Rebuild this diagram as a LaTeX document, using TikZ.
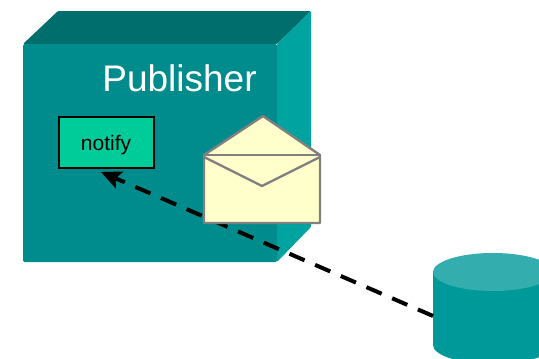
\documentclass[tikz,border=0pt]{standalone}
\usepackage{fontspec}
\setmainfont{Liberation Sans}
\usetikzlibrary{arrows.meta}
\definecolor{frontc}{HTML}{008C8C}
\definecolor{topc}{HTML}{006E6C}
\definecolor{sidec}{HTML}{00A3A0}
\definecolor{cylc}{HTML}{009999}
\definecolor{cyltop}{HTML}{33ADAD}
\definecolor{notifyc}{HTML}{00CC99}
\definecolor{envc}{HTML}{FFFFCC}
\definecolor{envl}{HTML}{808080}
\tikzset{
  envline/.style={draw=envl,line width=2.4pt,line join=round},
  notifybox/.style={draw=black,line width=2pt,fill=notifyc,minimum width=95pt,minimum height=51pt,inner sep=0pt,font=\fontsize{21}{24}\selectfont},
  titletext/.style={text=white,inner sep=0pt,font=\fontsize{37}{42}\selectfont},
  flow/.style={line width=4pt,dash pattern=on 16.5pt off 11.5pt,-{Stealth[length=20pt,width=18pt,inset=4pt]}}
}
\begin{document}
\begin{tikzpicture}[x=1pt,y=-1pt]
\useasboundingbox (0,0) rectangle (539,359);
\clip (0,0) rectangle (539,359);
% publisher box
\fill[topc,rounded corners=1pt] (23,44) -- (58,11) -- (311,11) -- (277,44) -- cycle;
\fill[sidec,rounded corners=1pt] (277,44) -- (311,11) -- (311,227) -- (277,262) -- cycle;
\fill[frontc,rounded corners=1.5pt] (23,44) rectangle (277,262);
\node[titletext] (pub) at (179.5,78) {Publisher};
\node[notifybox] (notify) at (106,142.5) {\raisebox{-7.5pt}[0pt][0pt]{notify}};
% database
\fill[cylc] (433,272) -- (433,345) arc[start angle=180,end angle=0,x radius=60,y radius=19] -- (553,272) -- cycle;
\fill[cyltop] (493,272) ellipse[x radius=60,y radius=19];
\coordinate (db) at (433,316);
\coordinate (tip) at (101,172);
\draw[flow] (db) -- (tip);
% envelope
\draw[envline,fill=envc] (204,155) -- (263,116) -- (320,155) -- (320,223) -- (204,223) -- cycle;
\draw[envline] (204,155) -- (320,155);
\draw[envline] (204,157) -- (262,186) -- (320,157);
\end{tikzpicture}
\end{document}
